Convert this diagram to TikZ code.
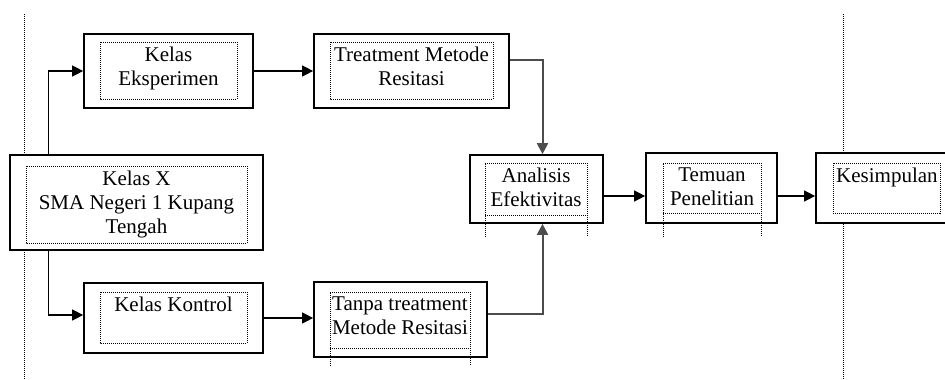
\documentclass[tikz,border=0pt]{standalone}
\usepackage{fontspec}
\setmainfont{Liberation Serif}
\usetikzlibrary{arrows.meta}

\begin{document}
\begin{tikzpicture}[x=1pt, y=-1pt,
  every node/.style={font=\fontsize{21}{24}\selectfont, inner sep=0pt},
  kotak/.style={draw, line width=1.7pt, fill=white},
  titik/.style={line width=1pt, dash pattern=on 1pt off 1pt},
  tulisan/.style={align=center, anchor=north},
  panah/.style={->, >={Triangle[length=11pt, width=11pt]}, line width=1.2pt},
  panahabu/.style={panah, draw=gray!60!black, line width=2pt}]

\useasboundingbox (0,0) rectangle (945,380);

\draw[titik] (24,14) -- (24,380);
\draw[titik] (843,14) -- (843,380);

\node[kotak, minimum width=253pt, minimum height=95pt] (kelasx) at (136.5,202.5) {};
\node[kotak, minimum width=169pt, minimum height=74pt] (eksp) at (168.5,71) {};
\node[kotak, minimum width=195pt, minimum height=74pt] (treat) at (411.5,71) {};
\node[kotak, minimum width=179pt, minimum height=70pt] (kontrol) at (173.5,318) {};
\node[kotak, minimum width=173pt, minimum height=75pt] (tanpa) at (400.5,319.5) {};
\node[kotak, minimum width=133pt, minimum height=68pt] (analisis) at (536.5,189) {};
\node[kotak, minimum width=131pt, minimum height=70pt] (temuan) at (711.5,188) {};
\node[kotak, minimum width=149pt, minimum height=70pt] (simpul) at (890.5,188) {};

\draw[titik] (26,166) rectangle (247,243);
\draw[titik] (100,42) rectangle (237,99);
\draw[titik] (330,42) rectangle (493,99);
\draw[titik] (100,292) rectangle (247,343);
\draw[titik] (330,366) -- (330,292) -- (470,292) -- (470,366) (330,348) -- (470,348);
\draw[titik] (485,237) -- (485,163) -- (587,163) -- (587,237) (485,215) -- (587,215);
\draw[titik] (663,237) -- (663,163) -- (761,163) -- (761,237) (663,213) -- (761,213);
\draw[titik] (833,163) rectangle (940,213);

\node[tulisan] (kelasxT) at (136.5,170.5) {Kelas X\\SMA Negeri 1 Kupang\\Tengah};
\node[tulisan] (ekspT) at (168.5,46.5) {Kelas\\Eksperimen};
\node[tulisan] (treatT) at (411.5,46.5) {Treatment Metode\\Resitasi};
\node[tulisan] (kontrolT) at (173.5,296.5) {Kelas Kontrol};
\node[tulisan] (tanpaT) at (400,296.5) {Tanpa treatment\\Metode Resitasi};
\node[tulisan] (analisisT) at (536,167.5) {Analisis\\Efektivitas};
\node[tulisan] (temuanT) at (712,167.5) {Temuan\\Penelitian};
\node[anchor=north west] (simpulT) at (836,167.5) {Kesimpulan};

\draw[panah] ([xshift=39pt]kelasx.north west) |- (eksp.west);
\draw[panah] (eksp.east) -- (treat.west);
\draw[panahabu] ([yshift=11pt]treat.east) -| ([xshift=6pt]analisis.north);
\draw[panah] ([xshift=39pt]kelasx.south west) |- ([yshift=3pt]kontrol.west);
\draw[panah] (kontrol.east) -- (kontrol.east -| tanpa.west);
\draw[panahabu] ([yshift=6pt]tanpa.east) -| ([xshift=6pt]analisis.south);
\draw[panah] ([yshift=-7pt]analisis.east) -- ([yshift=-7pt]analisis.east -| temuan.west);
\draw[panah] ([yshift=-8pt]temuan.east) -- ([yshift=-8pt]temuan.east -| simpul.west);

\end{tikzpicture}
\end{document}
